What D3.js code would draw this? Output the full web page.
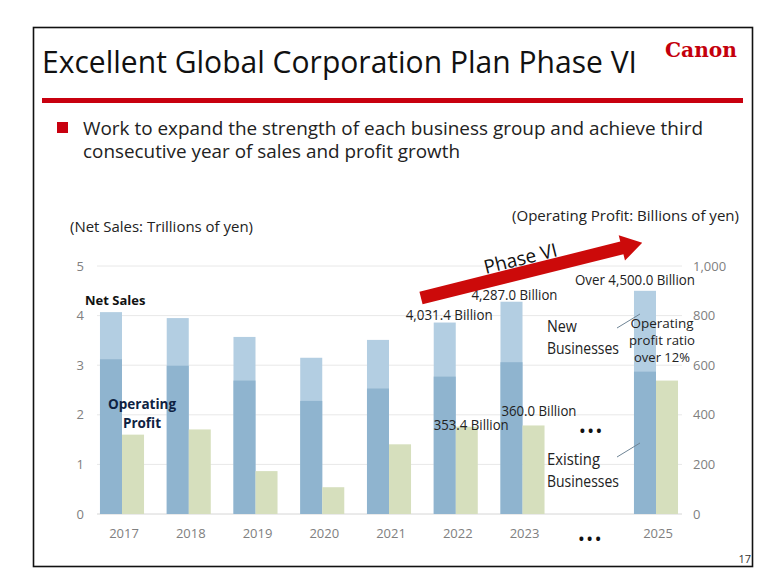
<!DOCTYPE html>
<html>
<head>
<meta charset="utf-8">
<script src="https://cdn.jsdelivr.net/npm/d3@7"></script>
<style>
  body { margin: 0; background: #fff; }
  svg { display: block; font-family: "Open Sans", "Noto Sans", sans-serif; }
</style>
</head>
<body>
<svg id="chart" width="763" height="579"></svg>
<script>
// categories ("…" is the gap between 2023 and 2025)
const years = ["2017", "2018", "2019", "2020", "2021", "2022", "2023", "…", "2025"];
// net sales, trillions of yen (total bar and darker lower part)
const netSalesTotal = [4.07, 3.95, 3.57, 3.15, 3.51, 3.86, 4.28, null, 4.5];
const netSalesBase = [3.12, 2.99, 2.69, 2.28, 2.53, 2.77, 3.06, null, 2.87];
// operating profit, billions of yen
const opProfit = [320, 341, 173, 108, 281, 352, 357, null, 538];
const leftTicks = [0, 1, 2, 3, 4, 5];
const rightTicks = [0, 200, 400, 600, 800, 1000];

const svg = d3.select("#chart");
const grey = "#808080";
const red = "#c8000f";

svg.append("rect").attr("width", 763).attr("height", 579).attr("fill", "#fff");
svg.append("rect")
  .attr("x", 33.5).attr("y", 27.5).attr("width", 719).attr("height", 539)
  .attr("fill", "none").attr("stroke", "#111").attr("stroke-width", 1.6);

// fit a text to a measured width from the slide
function fit(sel, w) {
  sel.attr("textLength", w).attr("lengthAdjust", "spacingAndGlyphs");
  return sel;
}

// header
fit(svg.append("text").attr("x", 42).attr("y", 73)
  .attr("font-size", 31).attr("fill", "#111")
  .text("Excellent Global Corporation Plan Phase VI"), 595);

fit(svg.append("text").attr("x", 665).attr("y", 57)
  .attr("font-family", "'DejaVu Serif', serif").attr("font-weight", "bold")
  .attr("font-size", 20).attr("fill", "#c4000c")
  .text("Canon"), 72);

svg.append("rect").attr("x", 42).attr("y", 98).attr("width", 701).attr("height", 5).attr("fill", red);
svg.append("rect").attr("x", 57).attr("y", 122).attr("width", 11).attr("height", 11).attr("fill", red);

fit(svg.append("text").attr("x", 83).attr("y", 135)
  .attr("font-size", 18).attr("fill", "#222")
  .text("Work to expand the strength of each business group and achieve third"), 620);
fit(svg.append("text").attr("x", 83).attr("y", 158)
  .attr("font-size", 18).attr("fill", "#222")
  .text("consecutive year of sales and profit growth"), 377);

// scales
const x = d3.scaleBand().domain(years).range([93.3, 684.7]).paddingInner(0.34).paddingOuter(0.1);
const yL = d3.scaleLinear().domain([0, 5]).range([514, 266]);
const yR = d3.scaleLinear().domain([0, 1000]).range([514, 266]);
const half = x.bandwidth() / 2;

// gridlines
svg.append("g").selectAll("line").data(leftTicks).join("line")
  .attr("x1", 97).attr("x2", 682)
  .attr("y1", (d) => yL(d)).attr("y2", (d) => yL(d))
  .attr("stroke", (d) => (d === 0 ? "#d6d6d6" : "#e8e8e8")).attr("stroke-width", 1);

// left axis
const axL = svg.append("g").attr("transform", "translate(84,0)")
  .call(d3.axisLeft(yL).tickValues(leftTicks).tickSize(0).tickPadding(0).tickFormat(d3.format("d")));
axL.select(".domain").remove();
axL.selectAll("text").attr("fill", grey).attr("font-size", 13).attr("font-family", "'Open Sans', sans-serif");

// right axis
const axR = svg.append("g").attr("transform", "translate(693,0)")
  .call(d3.axisRight(yR).tickValues(rightTicks).tickSize(0).tickPadding(0).tickFormat(d3.format(",")));
axR.select(".domain").remove();
axR.selectAll("text").attr("fill", grey).attr("font-size", 13).attr("font-family", "'Open Sans', sans-serif");

// bottom axis
const axB = svg.append("g").attr("transform", "translate(0,514)")
  .call(d3.axisBottom(x).tickSize(0).tickPadding(15));
axB.select(".domain").remove();
axB.selectAll("text").attr("fill", grey).attr("font-size", 13).attr("font-family", "'Open Sans', sans-serif")
  .attr("dx", 2);
axB.selectAll(".tick").filter((d) => d === "…").select("text")
  .text("•••").attr("fill", "#111").attr("font-size", 14).attr("font-weight", "bold")
  .attr("letter-spacing", 3).attr("dy", "1.1em");

const rows = years.map((y, i) => ({
  year: y, total: netSalesTotal[i], base: netSalesBase[i], op: opProfit[i]
})).filter((d) => d.total !== null);

// net sales: light upper part, darker lower part
svg.append("g").selectAll("rect").data(rows).join("rect")
  .attr("x", (d) => x(d.year)).attr("width", half)
  .attr("y", (d) => yL(d.total)).attr("height", (d) => yL(0) - yL(d.total))
  .attr("fill", "#b3cee2");
svg.append("g").selectAll("rect").data(rows).join("rect")
  .attr("x", (d) => x(d.year)).attr("width", half)
  .attr("y", (d) => yL(d.base)).attr("height", (d) => yL(0) - yL(d.base))
  .attr("fill", "#8fb4cf");

// operating profit
svg.append("g").selectAll("rect").data(rows).join("rect")
  .attr("x", (d) => x(d.year) + half).attr("width", half)
  .attr("y", (d) => yR(d.op)).attr("height", (d) => yR(0) - yR(d.op))
  .attr("fill", "#d6dfbd");

// axis titles
fit(svg.append("text").attr("x", 70).attr("y", 232).attr("font-size", 14).attr("fill", "#222")
  .text("(Net Sales: Trillions of yen)"), 183);
fit(svg.append("text").attr("x", 512).attr("y", 221).attr("font-size", 14).attr("fill", "#222")
  .text("(Operating Profit: Billions of yen)"), 227);

// series labels
const navy = "#0e2242";
svg.append("text").attr("x", x("2017") - 15).attr("y", yL(netSalesTotal[0]) - 7)
  .attr("font-size", 13).attr("font-weight", "bold").attr("fill", "#111").text("Net Sales");
svg.append("text").attr("x", x("2017") + half + 20).attr("y", 409)
  .attr("text-anchor", "middle").attr("font-size", 13.5).attr("font-weight", "bold").attr("fill", navy)
  .selectAll("tspan").data(["Operating", "Profit"]).join("tspan")
  .attr("x", x("2017") + half + 20).attr("dy", (d, i) => (i ? 19 : 0)).text((d) => d);

// value labels
const lab = (txt, xx, yy, w) =>
  fit(svg.append("text").attr("x", xx).attr("y", yy).attr("font-size", 14).attr("fill", "#222").text(txt), w);
lab("4,031.4 Billion", x("2022") - 28, yL(netSalesTotal[5]) - 3, 87);
lab("4,287.0 Billion", x("2023") - 29, yL(netSalesTotal[6]) - 2, 86);
lab("Over 4,500.0 Billion", x("2025") - 59, yL(netSalesTotal[8]) - 6, 120);
lab("353.4 Billion", x("2022"), yR(opProfit[5]) + 3, 75);
lab("360.0 Billion", x("2023") + 1, yR(opProfit[6]) - 9, 75);

// business split notes
const note = (lines, xx, yy, anchor, size, dy, widths) =>
  svg.append("text").attr("font-size", size).attr("fill", "#222").attr("text-anchor", anchor)
    .selectAll("tspan").data(lines).join("tspan")
    .attr("x", xx).attr("y", (d, i) => yy + i * dy)
    .attr("textLength", (d, i) => widths[i]).attr("lengthAdjust", "spacingAndGlyphs")
    .text((d) => d);
note(["New", "Businesses"], 547, 332, "start", 15.5, 22, [30, 72]);
note(["Existing", "Businesses"], 547, 465, "start", 15.5, 22, [53, 72]);
note(["Operating", "profit ratio", "over 12%"], 662, 328, "middle", 13, 17, [63, 66, 56]);

svg.append("line").attr("x1", 617).attr("y1", 328).attr("x2", 640).attr("y2", 314)
  .attr("stroke", "#6f8596").attr("stroke-width", 1);
svg.append("line").attr("x1", 617).attr("y1", 457).attr("x2", 640).attr("y2", 443)
  .attr("stroke", "#6f8596").attr("stroke-width", 1);

svg.append("text").attr("x", x("…") + x.bandwidth() / 2 + 3).attr("y", 436)
  .attr("text-anchor", "middle").attr("font-size", 14).attr("font-weight", "bold")
  .attr("letter-spacing", 3).attr("fill", "#111").text("•••");

// Phase VI arrow
const arrow = svg.append("g").attr("transform", "translate(421,298) rotate(-14)");
const L = 228, head = 21, bw = 6.5, hw = 13;
arrow.append("path")
  .attr("d", `M0,${-bw} L${L - head},${-bw} L${L - head},${-hw} L${L},0 L${L - head},${hw} L${L - head},${bw} L0,${bw} Z`)
  .attr("fill", "#cc0a0a");
svg.append("text").attr("transform", "translate(522,265) rotate(-14)")
  .attr("text-anchor", "middle").attr("font-size", 19).attr("fill", "#111").text("Phase VI");

svg.append("text").attr("x", 751).attr("y", 563).attr("text-anchor", "end")
  .attr("font-size", 11).attr("fill", "#333").text("17");
</script>
</body>
</html>
